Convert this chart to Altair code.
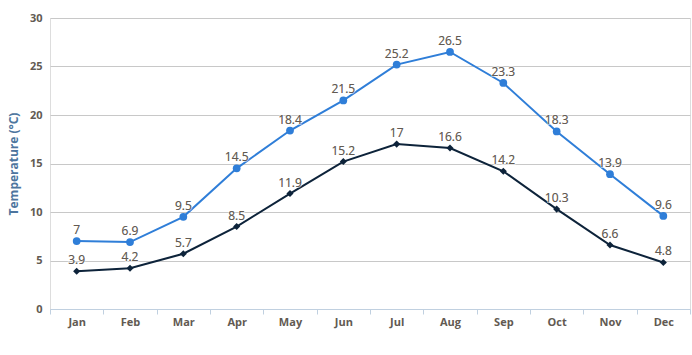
import altair as alt
import pandas as pd

months = ["Jan", "Feb", "Mar", "Apr", "May", "Jun", "Jul", "Aug", "Sep", "Oct", "Nov", "Dec"]
series_a = [7.0, 6.9, 9.5, 14.5, 18.4, 21.5, 25.2, 26.5, 23.3, 18.3, 13.9, 9.6]
series_b = [3.9, 4.2, 5.7, 8.5, 11.9, 15.2, 17.0, 16.6, 14.2, 10.3, 6.6, 4.8]
series_names = ["High", "Low"]

rows = []
for m, a, b in zip(months, series_a, series_b):
    rows.append({"month": m, "series": series_names[0], "temp": a, "label": f"{a:g}"})
    rows.append({"month": m, "series": series_names[1], "temp": b, "label": f"{b:g}"})
df = pd.DataFrame(rows)

colors = ["#2f7ed8", "#0d233a"]
FONT = "Open Sans"
TXT = "#625a52"

x = alt.X("month:N", sort=months, title=None,
          scale=alt.Scale(paddingInner=0, paddingOuter=0),
          axis=alt.Axis(labelAngle=0, tickBand="extent", domainColor="#c0d0e0",
                        tickColor="#c0d0e0", tickSize=5, labelColor=TXT,
                        labelFont=FONT, labelFontSize=11, labelFontWeight="bold",
                        labelPadding=2, grid=False))
y = alt.Y("temp:Q", title="Temperature (°C)",
          scale=alt.Scale(domain=[0, 30], nice=False),
          axis=alt.Axis(values=[0, 5, 10, 15, 20, 25, 30], domain=False, ticks=False,
                        gridColor="#c8c8c8", gridWidth=1, labelColor=TXT,
                        labelFont=FONT, labelFontSize=11, labelFontWeight="bold",
                        labelPadding=8, titleColor="#4d759e", titleFont=FONT,
                        titleFontSize=12, titleFontWeight="bold", titlePadding=9))
color = alt.Color("series:N", scale=alt.Scale(domain=series_names, range=colors), legend=None)

base = alt.Chart(df).encode(x=x, y=y, color=color)

lines = base.mark_line(strokeWidth=2)
pts_a = base.transform_filter(alt.datum.series == series_names[0]).mark_point(
    shape="circle", filled=True, size=60, opacity=1)
pts_b = base.transform_filter(alt.datum.series == series_names[1]).mark_point(
    shape="diamond", filled=True, size=50, opacity=1)
labels = alt.Chart(df).mark_text(dy=-11, font=FONT, fontSize=12,
                                 color=TXT, stroke="white", strokeWidth=2,
                                 strokeOpacity=0.5).encode(x=x, y=y, text="label:N")
labels2 = alt.Chart(df).mark_text(dy=-11, font=FONT, fontSize=12,
                                  color=TXT).encode(x=x, y=y, text="label:N")

chart = alt.layer(lines, pts_a, pts_b, labels, labels2).properties(
    width=640, height=291,
    autosize=alt.AutoSizeParams(type="none"),
    padding={"left": 50, "top": 18, "right": 2, "bottom": 46},
).configure_view(stroke=None).configure(background="white")

chart.save("out.html", embed_options={"renderer": "svg", "actions": False})
